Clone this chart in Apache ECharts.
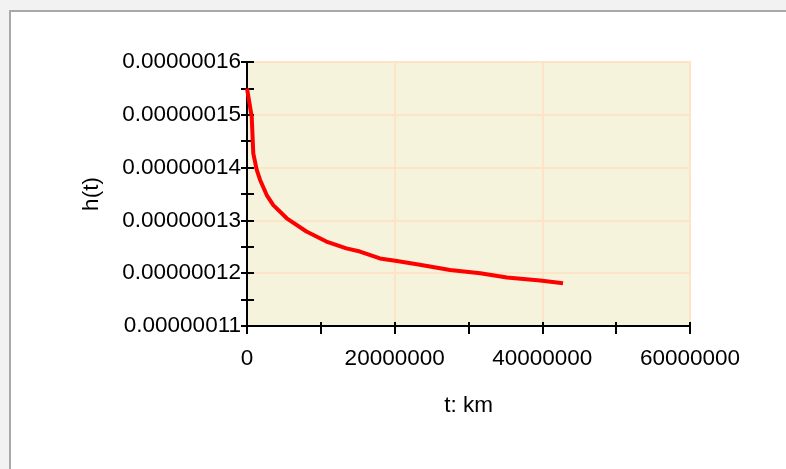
<!DOCTYPE html>
<html>
<head>
<meta charset="utf-8">
<script src="https://cdn.jsdelivr.net/npm/echarts@6/dist/echarts.min.js"></script>
<style>
  html, body { margin: 0; padding: 0; background: #f2f2f2; }
  #frame { position: absolute; left: 9px; top: 10px; width: 777px; height: 459px;
           background: #ffffff; border-left: 2px solid #a9a9a9; border-top: 2px solid #a9a9a9; box-sizing: border-box; }
  #chart { position: absolute; left: 0; top: 0; width: 786px; height: 469px; }
</style>
</head>
<body>
<div id="frame"></div>
<div id="chart"></div>
<script>
// t: km
const tValues = [0, 0.64e6, 0.85e6, 1.31e6, 1.76e6, 2.67e6, 3.56e6, 5.38e6, 8.05e6, 10.75e6,
                 13.46e6, 15.3e6, 18.0e6, 20.3e6, 23.4e6, 27.5e6, 31.6e6, 35.2e6, 39.7e6, 42.8e6];
// h(t)
const hValues = [1.550e-7, 1.496e-7, 1.427e-7, 1.396e-7, 1.377e-7, 1.348e-7, 1.329e-7, 1.304e-7,
                 1.279e-7, 1.260e-7, 1.247e-7, 1.241e-7, 1.228e-7, 1.223e-7, 1.216e-7, 1.206e-7,
                 1.200e-7, 1.192e-7, 1.186e-7, 1.181e-7];
const xTickLabels = ['0', '20000000', '40000000', '60000000'];
const yTickLabels = ['0.00000011', '0.00000012', '0.00000013', '0.00000014', '0.00000015', '0.00000016'];

const xMin = 0, xMax = 60000000, xInterval = 20000000;
const yMin = 1.1e-7, yMax = 1.6e-7, yInterval = 1e-8;

const font = { fontFamily: 'Liberation Sans, Arial, sans-serif', fontSize: 22.5, color: '#000' };
const gridRect = { left: 247, top: 62, right: 96, bottom: 143 };

const chart = echarts.init(document.getElementById('chart'));
chart.setOption({
  animation: false,
  grid: [
    Object.assign({ show: true, backgroundColor: '#f5f3dc', borderColor: '#fde4c6', borderWidth: 2 }, gridRect),
    Object.assign({ show: false }, gridRect)
  ],
  xAxis: [
    {
      type: 'value', gridIndex: 0, min: xMin, max: xMax, interval: xInterval,
      name: 't: km', nameLocation: 'middle', nameGap: 68,
      nameTextStyle: font,
      axisLine: { show: true, lineStyle: { color: '#000', width: 2 } },
      axisTick: { show: true, length: 8, lineStyle: { color: '#000', width: 2 } },
      minorTick: { show: true, splitNumber: 2, length: 8, lineStyle: { color: '#000', width: 2 } },
      axisLabel: Object.assign({ margin: 21, formatter: v => xTickLabels[Math.round(v / xInterval)] }, font),
      splitLine: { show: true, lineStyle: { color: '#fde4c6', width: 2 } }
    },
    {
      type: 'value', gridIndex: 1, min: xMin, max: xMax, interval: xInterval,
      axisLine: { show: false },
      axisTick: { show: true, inside: true, length: 4, lineStyle: { color: '#000', width: 2 } },
      minorTick: { show: true, splitNumber: 2, length: 4, lineStyle: { color: '#000', width: 2 } },
      axisLabel: { show: false },
      splitLine: { show: false }
    }
  ],
  yAxis: [
    {
      type: 'value', gridIndex: 0, min: yMin, max: yMax, interval: yInterval,
      name: 'h(t)', nameLocation: 'middle', nameGap: 144, nameRotate: 90,
      nameTextStyle: font,
      axisLine: { show: true, lineStyle: { color: '#000', width: 2 } },
      axisTick: { show: true, length: 6, lineStyle: { color: '#000', width: 2 } },
      minorTick: { show: true, splitNumber: 2, length: 6, lineStyle: { color: '#000', width: 2 } },
      axisLabel: Object.assign({ margin: 6, padding: [4, 0, 0, 0], formatter: v => yTickLabels[Math.round((v - yMin) / yInterval)] }, font),
      splitLine: { show: true, lineStyle: { color: '#fde4c6', width: 2 } }
    },
    {
      type: 'value', gridIndex: 1, min: yMin, max: yMax, interval: yInterval,
      axisLine: { show: false },
      axisTick: { show: true, inside: true, length: 7, lineStyle: { color: '#000', width: 2 } },
      minorTick: { show: true, splitNumber: 2, length: 7, lineStyle: { color: '#000', width: 2 } },
      axisLabel: { show: false },
      splitLine: { show: false }
    }
  ],
  series: [{
    type: 'line', xAxisIndex: 0, yAxisIndex: 0,
    data: tValues.map((t, i) => [t, hValues[i]]),
    showSymbol: false, smooth: false,
    lineStyle: { color: '#ff0000', width: 4 },
    z: 3
  }]
});
</script>
</body>
</html>
